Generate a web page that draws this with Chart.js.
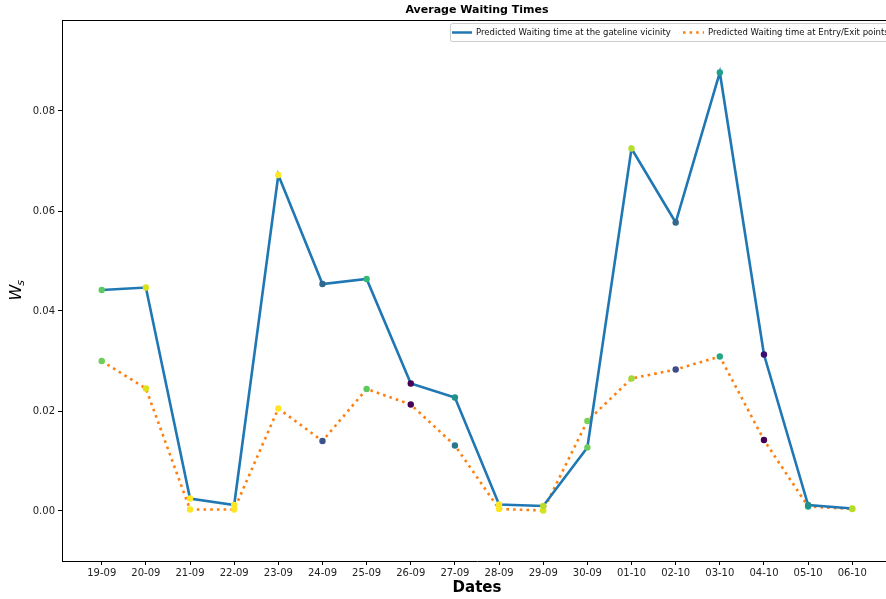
<!DOCTYPE html>
<html>
<head>
<meta charset="utf-8">
<title>Average Waiting Times</title>
<script src="https://cdn.jsdelivr.net/npm/chart.js@4.4.1/dist/chart.umd.min.js"></script>
<style>
  html, body { margin: 0; padding: 0; background: #fff; overflow: hidden; }
  #wrap { width: 886px; height: 599px; overflow: hidden; }
  canvas { display: block; }
</style>
</head>
<body>
<div id="wrap"><canvas id="chart" width="900" height="599"></canvas></div>
<script>
// dates on the x axis
const dates = ['19-09', '20-09', '21-09', '22-09', '23-09', '24-09', '25-09', '26-09', '27-09',
               '28-09', '29-09', '30-09', '01-10', '02-10', '03-10', '04-10', '05-10', '06-10'];

// predicted waiting times
const gatelineWait = [0.0442, 0.0447, 0.0025, 0.0012, 0.0672, 0.0454, 0.0464, 0.0255, 0.0227,
                      0.0013, 0.0010, 0.0127, 0.0725, 0.0577, 0.0877, 0.0313, 0.0012, 0.0005];
const entryExitWait = [0.0300, 0.0245, 0.0003, 0.0003, 0.0205, 0.0140, 0.0244, 0.0213, 0.0131,
                       0.0004, 0.0001, 0.0180, 0.0265, 0.0283, 0.0309, 0.0142, 0.0009, 0.0004];

// marker colours (viridis)
const gatelineColors = ['#5ec962', '#d8e219', '#fde725', '#fde725', '#fde725', '#31688e', '#35b779', '#440154', '#21918c',
                        '#fde725', '#b5de2b', '#6ece58', '#b5de2b', '#31688e', '#1f9e89', '#3b0f70', '#21918c', '#b5de2b'];
const entryExitColors = ['#6ece58', '#dde318', '#fde725', '#fde725', '#fde725', '#3b528b', '#5ec962', '#440154', '#2a788e',
                         '#fde725', '#d8e219', '#7ad151', '#a0da39', '#3e4a89', '#22a884', '#440154', '#20a386', '#c2df23'];

const yTicks = [0, 0.02, 0.04, 0.06, 0.08];
const seriesNames = ['Predicted Waiting time at the gateline vicinity', 'Predicted Waiting time at Entry/Exit points'];

const toPoints = vals => vals.map((v, i) => ({ x: i, y: v }));

// frame, titles and the boxed legend inside the plot
const decorations = {
  id: 'decorations',
  afterDraw(chart) {
    const { ctx, chartArea: a } = chart;
    ctx.save();
    ctx.strokeStyle = '#000';
    ctx.lineWidth = 1;
    ctx.beginPath();
    ctx.moveTo(a.left, a.top + 0.5);
    ctx.lineTo(a.right - 0.5, a.top + 0.5);
    ctx.lineTo(a.right - 0.5, a.bottom);
    ctx.stroke();

    ctx.fillStyle = '#000';
    ctx.textAlign = 'center';
    ctx.textBaseline = 'middle';
    ctx.font = 'bold 11px "DejaVu Sans"';
    ctx.fillText('Average Waiting Times', (a.left + a.right) / 2, 10);
    ctx.font = 'bold 15px "DejaVu Sans"';
    ctx.fillText('Dates', (a.left + a.right) / 2, 588);

    // W_s
    ctx.save();
    ctx.translate(15, (a.top + a.bottom) / 2);
    ctx.rotate(-Math.PI / 2);
    ctx.textAlign = 'left';
    ctx.textBaseline = 'alphabetic';
    ctx.font = 'italic 16px "DejaVu Sans"';
    const wWidth = ctx.measureText('W').width;
    ctx.fillText('W', -10, 6);
    ctx.font = 'italic 11px "DejaVu Sans"';
    ctx.fillText('s', -10 + wWidth - 1, 9);
    ctx.restore();

    // legend
    const lx = 450, ly = 23, lw = 440, lh = 18;
    ctx.beginPath();
    ctx.roundRect(lx + 0.5, ly + 0.5, lw, lh, 2);
    ctx.fillStyle = 'rgba(255,255,255,0.85)';
    ctx.fill();
    ctx.strokeStyle = '#cccccc';
    ctx.stroke();

    const cy = ly + lh / 2 + 0.5;
    ctx.lineWidth = 2.5;
    ctx.strokeStyle = '#1f77b4';
    ctx.beginPath();
    ctx.moveTo(452, cy);
    ctx.lineTo(472, cy);
    ctx.stroke();
    ctx.strokeStyle = '#ff7f0e';
    ctx.setLineDash([2.5, 4.1]);
    ctx.beginPath();
    ctx.moveTo(683, cy);
    ctx.lineTo(704, cy);
    ctx.stroke();
    ctx.setLineDash([]);

    ctx.fillStyle = '#111';
    ctx.font = '8.5px "DejaVu Sans"';
    ctx.textAlign = 'left';
    ctx.textBaseline = 'middle';
    ctx.fillText(seriesNames[0], 476, cy);
    ctx.fillText(seriesNames[1], 708, cy);
    ctx.restore();
  }
};

new Chart(document.getElementById('chart'), {
  type: 'line',
  data: {
    datasets: [
      {
        label: seriesNames[0],
        data: toPoints(gatelineWait),
        borderColor: '#1f77b4',
        borderWidth: 2.6,
        pointRadius: 3.2,
        pointBorderWidth: 0,
        pointBackgroundColor: gatelineColors,
        pointBorderColor: gatelineColors,
        tension: 0
      },
      {
        label: seriesNames[1],
        data: toPoints(entryExitWait),
        borderColor: '#ff7f0e',
        borderWidth: 2.6,
        borderDash: [2.6, 4.1],
        pointRadius: 3.2,
        pointBorderWidth: 0,
        pointBackgroundColor: entryExitColors,
        pointBorderColor: entryExitColors,
        tension: 0
      }
    ]
  },
  options: {
    responsive: false,
    animation: false,
    layout: { padding: { left: 0, right: 8, top: 20, bottom: 0 } },
    plugins: {
      legend: { display: false },
      title: { display: false },
      tooltip: { enabled: false }
    },
    scales: {
      x: {
        type: 'linear',
        min: -0.9,
        max: 17.9,
        afterBuildTicks: scale => { scale.ticks = dates.map((d, i) => ({ value: i })); },
        afterFit: scale => { scale.height = 38; },
        ticks: {
          autoSkip: false,
          maxRotation: 0,
          padding: 2,
          color: '#222',
          font: { family: 'DejaVu Sans', size: 10 },
          callback: v => dates[v]
        },
        grid: { drawOnChartArea: false, drawTicks: true, tickLength: 4, color: '#000' },
        border: { color: '#000', width: 1 }
      },
      y: {
        min: -0.01,
        max: 0.0982,
        afterBuildTicks: scale => { scale.ticks = yTicks.map(v => ({ value: v })); },
        afterFit: scale => { scale.width = 62; },
        ticks: {
          padding: 3,
          color: '#222',
          font: { family: 'DejaVu Sans', size: 10 },
          callback: v => v.toFixed(2)
        },
        grid: { drawOnChartArea: false, drawTicks: true, tickLength: 4, color: '#000' },
        border: { color: '#000', width: 1 }
      }
    }
  },
  plugins: [decorations]
});
</script>
</body>
</html>
